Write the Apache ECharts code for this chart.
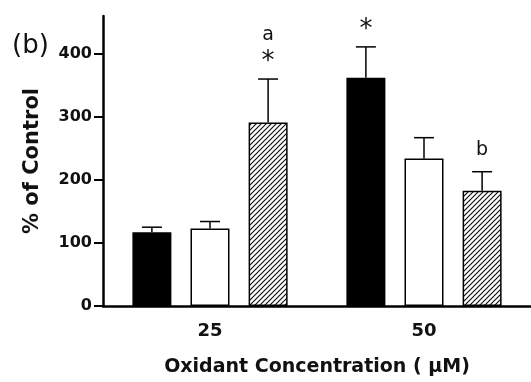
<!DOCTYPE html>
<html><head><meta charset="utf-8">
<script src="https://cdn.jsdelivr.net/npm/echarts@6/dist/echarts.min.js"></script>
<style>html,body{margin:0;padding:0;background:#fff}#c{width:531px;height:382px}</style>
</head><body><div id="c"></div>
<script>
// ---- data ----
const categories = ['25', '50'];
const blackValues = [117, 362];
const blackErrors = [8, 49];
const whiteValues = [123, 234];
const whiteErrors = [11, 33];
const hatchValues = [291, 183];
const hatchErrors = [69, 30];
const blackStars = [false, true];
const whiteStars = [false, false];
const hatchStars = [true, false];
const blackLetters = ['', ''];
const whiteLetters = ['', ''];
const hatchLetters = ['a', 'b'];
const yTicks = [0, 100, 200, 300, 400];

// ---- styles ----
const FONT = '"DejaVu Sans", "Liberation Sans", Arial, sans-serif';
const BAR_W = 39;
const BAR_GAP = 0.49;
const BAR_STEP = BAR_W * (1 + BAR_GAP);
const CAP_HALF = 10;

function hatchPattern() {
  const s = 5;
  const cv = document.createElement('canvas');
  cv.width = s; cv.height = s;
  const g = cv.getContext('2d');
  g.fillStyle = '#fff'; g.fillRect(0, 0, s, s);
  g.strokeStyle = '#111'; g.lineWidth = 1.2;
  g.beginPath();
  g.moveTo(-1, s + 1); g.lineTo(s + 1, -1);
  g.moveTo(-1, 1); g.lineTo(1, -1);
  g.moveTo(s - 1, s + 1); g.lineTo(s + 1, s - 1);
  g.stroke();
  return cv;
}

const valuesBySeries = [blackValues, whiteValues, hatchValues];
const errorsBySeries = [blackErrors, whiteErrors, hatchErrors];
const starsBySeries = [blackStars, whiteStars, hatchStars];
const lettersBySeries = [blackLetters, whiteLetters, hatchLetters];

const errData = [];
valuesBySeries.forEach((vals, s) => {
  vals.forEach((v, c) => errData.push([c, v, v + errorsBySeries[s][c], s]));
});

const chart = echarts.init(document.getElementById('c'));
const barBase = {
  type: 'bar', barWidth: BAR_W, barGap: (BAR_GAP * 100) + '%',
  animation: false
};

chart.setOption({
  backgroundColor: '#fff',
  animation: false,
  grid: { left: 103, right: 0, top: 16, bottom: 76 },
  xAxis: {
    type: 'category', data: categories,
    axisLine: { lineStyle: { color: '#000', width: 2.5 } },
    axisTick: { alignWithLabel: true, length: 6, lineStyle: { color: '#000', width: 2 } },
    axisLabel: { color: '#111', fontFamily: FONT, fontWeight: 'bold', fontSize: 18, margin: 16 },
    name: 'Oxidant Concentration ( \u00b5M)', nameLocation: 'middle', nameGap: 52,
    nameTextStyle: { color: '#111', fontFamily: FONT, fontWeight: 'bold', fontSize: 19 }
  },
  yAxis: {
    type: 'value', min: 0, max: 460,
    splitLine: { show: false },
    axisLine: { show: true, lineStyle: { color: '#000', width: 2.5 } },
    axisTick: { show: true, length: 9, customValues: yTicks, lineStyle: { color: '#000', width: 2 } },
    axisLabel: { customValues: yTicks, color: '#111', fontFamily: FONT, fontWeight: 'bold', fontSize: 16, margin: 11 },
    name: '% of Control', nameLocation: 'middle', nameGap: 60, nameRotate: 90,
    nameTextStyle: { color: '#111', fontFamily: FONT, fontWeight: 'bold', fontSize: 21 }
  },
  graphic: [{
    type: 'text', left: 12, top: 33,
    style: { text: '(b)', font: '26px ' + FONT, fill: '#111' }
  }],
  series: [
    Object.assign({}, barBase, {
      name: 'black', data: blackValues,
      itemStyle: { color: '#000', borderColor: '#000', borderWidth: 1.5 }
    }),
    Object.assign({}, barBase, {
      name: 'white', data: whiteValues,
      itemStyle: { color: '#fff', borderColor: '#000', borderWidth: 1.5 }
    }),
    Object.assign({}, barBase, {
      name: 'hatched', data: hatchValues,
      itemStyle: { color: { image: hatchPattern(), repeat: 'repeat' }, borderColor: '#000', borderWidth: 1.5 }
    }),
    {
      type: 'custom', data: errData, z: 5,
      encode: { x: 0, y: 2 },
      renderItem: function (params, api) {
        const c = api.value(0), v = api.value(1), top = api.value(2), s = api.value(3);
        const base = api.coord([c, v]);
        const x = base[0] + (s - 1) * BAR_STEP;
        const yBar = base[1];
        const yTop = api.coord([c, top])[1];
        const children = [
          { type: 'line', shape: { x1: x, y1: yBar, x2: x, y2: yTop }, style: { stroke: '#000', lineWidth: 1.5 } },
          { type: 'line', shape: { x1: x - CAP_HALF, y1: yTop, x2: x + CAP_HALF, y2: yTop }, style: { stroke: '#000', lineWidth: 1.5 } }
        ];
        let yNote = yTop - 22;
        if (starsBySeries[s][c]) {
          children.push({ type: 'text', style: { text: '*', x: x, y: yNote + 5, align: 'center', verticalAlign: 'middle', font: '26px ' + FONT, fill: '#111' } });
          yNote -= 22;
        }
        const letter = lettersBySeries[s][c];
        if (letter) {
          children.push({ type: 'text', style: { text: letter, x: x, y: yNote, align: 'center', verticalAlign: 'middle', font: '19px ' + FONT, fill: '#111' } });
        }
        return { type: 'group', children: children };
      }
    }
  ]
});
</script>
</body></html>
